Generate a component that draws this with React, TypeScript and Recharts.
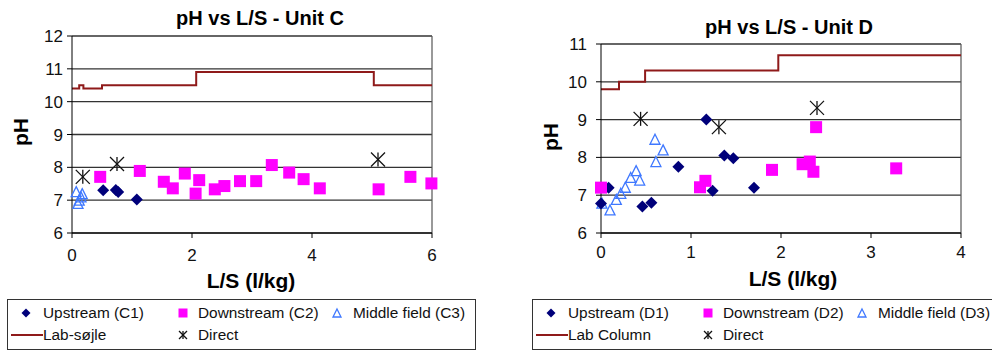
import React from 'react'
import { ComposedChart, Line, Scatter, XAxis, YAxis, CartesianGrid, ReferenceLine } from 'recharts'

const FONT = '"Liberation Sans", Arial, sans-serif'

const NAVY = '#00007a'
const MAGENTA = '#ff00ff'
const TRI_BLUE = '#3f78ff'
const LAB_RED = '#8f1a1a'

// Unit C  [L/S, pH]
const labC = [[0, 10.4], [0.12, 10.5], [0.19, 10.4], [0.5, 10.5], [2.07, 10.9], [5.03, 10.5], [6, 10.5]]
const upstreamC = [[0.52, 7.3], [0.73, 7.31], [0.77, 7.25], [1.08, 7.02]]
const downstreamC = [
  [0.47, 7.71], [1.13, 7.89], [1.53, 7.56], [1.68, 7.36], [1.88, 7.81], [2.12, 7.61], [2.06, 7.2],
  [2.38, 7.33], [2.54, 7.43], [2.8, 7.58], [3.07, 7.58], [3.33, 8.07], [3.62, 7.84], [3.86, 7.64],
  [4.13, 7.36], [5.11, 7.33], [5.64, 7.71], [5.99, 7.51],
]
const middleC = [[0.07, 7.26], [0.17, 7.2], [0.15, 7.1], [0.12, 7.0], [0.1, 6.9]]
const directC = [[0.18, 7.71], [0.75, 8.1], [5.1, 8.24]]
const xTicksC = [0, 2, 4, 6]
const yTicksC = [6, 7, 8, 9, 10, 11, 12]

// Unit D
const labD = [[0, 9.8], [0.2, 10.0], [0.49, 10.3], [1.97, 10.7], [4, 10.7]]
const upstreamD = [
  [0, 6.78], [0.085, 7.2], [0.46, 6.7], [0.56, 6.8], [0.86, 7.75], [1.17, 9.0], [1.24, 7.12],
  [1.37, 8.05], [1.47, 7.98], [1.7, 7.2],
]
const downstreamD = [
  [0, 7.2], [1.1, 7.21], [1.16, 7.38], [1.9, 7.67], [2.24, 7.82], [2.32, 7.89], [2.36, 7.62],
  [2.39, 8.8], [3.28, 7.71],
]
const middleD = [
  [0.01, 6.79], [0.1, 6.61], [0.17, 6.89], [0.22, 7.05], [0.27, 7.21], [0.33, 7.47], [0.39, 7.65],
  [0.43, 7.4], [0.6, 8.48], [0.61, 7.89], [0.69, 8.2],
]
const directD = [[0.44, 9.02], [1.31, 8.8], [2.4, 9.31]]
const xTicksD = [0, 1, 2, 3, 4]
const yTicksD = [6, 7, 8, 9, 10, 11]

const pts = (arr: number[][]) => arr.map(([x, y]) => ({ x, y }))

const Diamond = ({ cx, cy, r = 6 }: any) => (
  <polygon points={`${cx},${cy - r} ${cx + r},${cy} ${cx},${cy + r} ${cx - r},${cy}`} fill={NAVY} />
)
const Square = ({ cx, cy, s = 12 }: any) => (
  <rect x={cx - s / 2} y={cy - s / 2} width={s} height={s} fill={MAGENTA} />
)
const Triangle = ({ cx, cy, s = 10 }: any) => (
  <polygon
    points={`${cx},${cy - s / 2} ${cx + s / 2},${cy + s / 2} ${cx - s / 2},${cy + s / 2}`}
    fill="none"
    stroke={TRI_BLUE}
    strokeWidth={1.3}
  />
)
const Star = ({ cx, cy, r = 7 }: any) => (
  <g stroke="#111" strokeWidth={1.3}>
    <line x1={cx - r} y1={cy - r} x2={cx + r} y2={cy + r} />
    <line x1={cx - r} y1={cy + r} x2={cx + r} y2={cy - r} />
    <line x1={cx} y1={cy - r} x2={cx} y2={cy + r} />
  </g>
)

interface PanelProps {
  left: number
  top: number
  yAxisW: number
  right: number
  yTickGap: number
  xTickGap: number
  xMax: number
  yMin: number
  yMax: number
  xTicks: number[]
  yTicks: number[]
  lab: number[][]
  up: number[][]
  down: number[][]
  mid: number[][]
  direct: number[][]
}

function Panel(p: PanelProps) {
  const tick = { fill: '#111', fontSize: 17, fontFamily: FONT }
  return (
    <div style={{ position: 'absolute', left: p.left, top: 0 }}>
      <ComposedChart width={496} height={298} margin={{ top: p.top, right: p.right, left: 0, bottom: 0 }}>
        <CartesianGrid vertical={false} stroke="#333" strokeWidth={1.3} />
        <XAxis
          type="number"
          dataKey="x"
          domain={[0, p.xMax]}
          ticks={p.xTicks}
          height={65}
          tick={tick}
          tickSize={5}
          tickMargin={p.xTickGap}
          stroke="#000"
          interval={0}
        />
        <YAxis
          type="number"
          dataKey="y"
          domain={[p.yMin, p.yMax]}
          ticks={p.yTicks}
          width={p.yAxisW}
          tick={tick}
          tickSize={5}
          tickMargin={p.yTickGap}
          stroke="#000"
          interval={0}
        />
        <ReferenceLine x={p.xMax} stroke="#555" strokeWidth={1.2} />
        <Line
          data={pts(p.lab)}
          dataKey="y"
          type="stepAfter"
          stroke={LAB_RED}
          strokeWidth={2}
          dot={false}
          isAnimationActive={false}
        />
        <Scatter data={pts(p.mid)} shape={(s: any) => <Triangle cx={s.cx} cy={s.cy} />} isAnimationActive={false} />
        <Scatter data={pts(p.up)} shape={(s: any) => <Diamond cx={s.cx} cy={s.cy} />} isAnimationActive={false} />
        <Scatter data={pts(p.down)} shape={(s: any) => <Square cx={s.cx} cy={s.cy} />} isAnimationActive={false} />
        <Scatter data={pts(p.direct)} shape={(s: any) => <Star cx={s.cx} cy={s.cy} />} isAnimationActive={false} />
      </ComposedChart>
    </div>
  )
}

const Txt = ({ x, y, size, bold, rotate, children }: any) => (
  <div
    style={{
      position: 'absolute',
      left: x,
      top: y,
      transform: `translate(-50%, -50%)${rotate ? ' rotate(-90deg)' : ''}`,
      fontSize: size,
      fontWeight: bold ? 'bold' : 'normal',
      whiteSpace: 'nowrap',
      lineHeight: 1,
      color: '#000',
    }}
  >
    {children}
  </div>
)

const LegText = ({ x, y, children }: any) => (
  <div style={{ position: 'absolute', left: x, top: y - 9, fontSize: 15.4, lineHeight: '18px', whiteSpace: 'nowrap', color: '#111' }}>
    {children}
  </div>
)

const Icon = ({ x, y, w = 16, h = 16, children }: any) => (
  <svg style={{ position: 'absolute', left: x - w / 2, top: y - h / 2 }} width={w} height={h}>
    {children}
  </svg>
)

function LegendBox({ left, names }: { left: number; names: string[] }) {
  const r1 = 313
  const r2 = 335
  const cols = [left + 19, left + 176, left + 330]
  return (
    <>
      <div
        style={{
          position: 'absolute',
          left,
          top: 299,
          width: 467,
          height: 49,
          border: '1px solid #333',
        }}
      />
      <Icon x={cols[0]} y={r1}><Diamond cx={8} cy={8} r={4.5} /></Icon>
      <LegText x={cols[0] + 17} y={r1}>{names[0]}</LegText>
      <Icon x={cols[1]} y={r1}><Square cx={8} cy={8} s={9} /></Icon>
      <LegText x={cols[1] + 15} y={r1}>{names[1]}</LegText>
      <Icon x={cols[2]} y={r1}><Triangle cx={8} cy={8} s={8} /></Icon>
      <LegText x={cols[2] + 16} y={r1}>{names[2]}</LegText>
      <Icon x={cols[0] + 1} y={r2} w={32} h={6}>
        <line x1={0} y1={3} x2={32} y2={3} stroke={LAB_RED} strokeWidth={2} />
      </Icon>
      <LegText x={cols[0] + 17} y={r2}>{names[3]}</LegText>
      <Icon x={cols[1]} y={r2}><Star cx={8} cy={8} r={4} /></Icon>
      <LegText x={cols[1] + 15} y={r2}>{names[4]}</LegText>
    </>
  )
}

export default function App() {
  return (
    <div
      style={{
        position: 'absolute',
        left: 0,
        top: 0,
        width: 992,
        height: 350,
        overflow: 'hidden',
        background: '#fff',
        fontFamily: FONT,
      }}
    >
      <Panel
        left={0}
        top={36}
        yAxisW={72}
        right={64}
        yTickGap={4}
        xTickGap={11}
        xMax={6}
        yMin={6}
        yMax={12}
        xTicks={xTicksC}
        yTicks={yTicksC}
        lab={labC}
        up={upstreamC}
        down={downstreamC}
        mid={middleC}
        direct={directC}
      />
      <Panel
        left={496}
        top={44}
        yAxisW={105}
        right={31}
        yTickGap={9}
        xTickGap={8}
        xMax={4}
        yMin={6}
        yMax={11}
        xTicks={xTicksD}
        yTicks={yTicksD}
        lab={labD}
        up={upstreamD}
        down={downstreamD}
        mid={middleD}
        direct={directD}
      />
      <Txt x={260} y={18} size={20} bold>pH vs L/S - Unit C</Txt>
      <Txt x={20} y={132} size={21} bold rotate>pH</Txt>
      <Txt x={251} y={280} size={21} bold>L/S (l/kg)</Txt>
      <Txt x={789} y={27} size={20} bold>pH vs L/S - Unit D</Txt>
      <Txt x={550} y={137} size={21} bold rotate>pH</Txt>
      <Txt x={793} y={278} size={21} bold>L/S (l/kg)</Txt>
      <LegendBox left={7} names={['Upstream (C1)', 'Downstream (C2)', 'Middle field (C3)', 'Lab-søjle', 'Direct']} />
      <LegendBox left={532} names={['Upstream (D1)', 'Downstream (D2)', 'Middle field (D3)', 'Lab Column', 'Direct']} />
    </div>
  )
}
